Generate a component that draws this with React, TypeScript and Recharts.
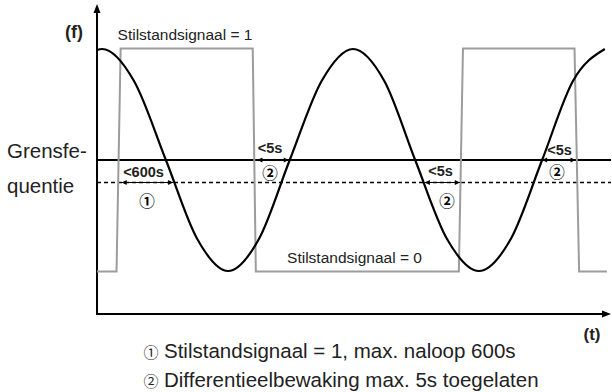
import React from 'react'
import { ComposedChart, Line, XAxis, YAxis, ReferenceLine, ReferenceDot } from 'recharts'

// t = time (arbitrary units), f = frequency (arbitrary units)
const sineT = [0, 0.1, 0.72, 1.34, 1.95, 2.55, 3.15, 3.75, 4.37, 4.98, 5.59, 6.19, 6.81, 7.43, 8.05, 8.66, 9.26, 9.88]
const sineF = [26.4, 26.5, 23.3, 15.4, 7.5, 4.3, 7.5, 15.4, 23.3, 26.5, 23.3, 15.4, 7.5, 4.3, 7.5, 15.4, 23.3, 26.5]

// stilstandsignaal (0 / 1)
const signalT = [0, 0.38, 0.46, 3.03, 3.09, 7.04, 7.12, 9.29, 9.38, 9.92]
const signalF = [4.25, 4.25, 26.55, 26.55, 4.25, 4.25, 26.55, 26.55, 4.25, 4.25]

const grensF = 15.4
const dashedF = 13.15

// measured spans between signal edge and crossing
const spanFrom = [0.48, 3.12, 6.38, 8.66]
const spanTo = [1.48, 3.73, 7.06, 9.31]
const spanF = [dashedF, grensF, dashedF, grensF]
const spanText = ['<600s', '<5s', '<5s', '<5s']
const spanTextT = [0.905, 3.366, 6.683, 9.0]
const spanTextF = [13.7, 16.1, 13.8, 15.9]
const markText = ['\u2460', '\u2461', '\u2461', '\u2461']
const markT = [0.973, 3.366, 6.81, 8.95]
const markF = [11.4, 14.2, 11.4, 14.3]

const stateText = ['Stilstandsignaal = 1', 'Stilstandsignaal = 0']
const stateT = [1.712, 5.01]
const stateF = [27.4, 5.1]

const sineData = sineT.map((t, i) => ({ t, f: sineF[i] }))
const signalData = signalT.map((t, i) => ({ t, f: signalF[i] }))

const FONT = '"Liberation Sans", Arial, sans-serif'
const CIRCLE_FONT = '"Noto Sans CJK JP", "DejaVu Sans", sans-serif'

const AxisArrow = (p: any) => {
  const { x1, y1, x2, y2 } = p
  if (Math.abs(x1 - x2) < 0.5) {
    const top = Math.min(y1, y2)
    const bot = Math.max(y1, y2)
    return (
      <g>
        <line x1={x1} y1={bot + 1} x2={x1} y2={top + 6} stroke="#000" strokeWidth={2} />
        <polygon points={`${x1},${top} ${x1 - 3.5},${top + 9} ${x1 + 3.5},${top + 9}`} fill="#000" />
      </g>
    )
  }
  const left = Math.min(x1, x2)
  const right = Math.max(x1, x2)
  return (
    <g>
      <line x1={left - 1} y1={y1} x2={right - 6} y2={y1} stroke="#000" strokeWidth={2} />
      <polygon points={`${right},${y1} ${right - 9},${y1 - 3.5} ${right - 9},${y1 + 3.5}`} fill="#000" />
    </g>
  )
}

const SpanArrow = (p: any) => {
  const { x1, y1, x2 } = p
  const a = Math.min(x1, x2)
  const b = Math.max(x1, x2)
  return (
    <g>
      <line x1={a} y1={y1} x2={b} y2={y1} stroke="#000" strokeWidth={1.2} />
      <polygon points={`${a},${y1} ${a + 5},${y1 - 2.5} ${a + 5},${y1 + 2.5}`} fill="#000" />
      <polygon points={`${b},${y1} ${b - 5},${y1 - 2.5} ${b - 5},${y1 + 2.5}`} fill="#000" />
    </g>
  )
}

const textShape = (value: string, size: number, bold: boolean, family = FONT, central = false) => (p: any) => (
  <text
    x={p.cx}
    y={p.cy}
    textAnchor="middle"
    dominantBaseline={central ? 'central' : 'alphabetic'}
    fontFamily={family}
    fontSize={size}
    fontWeight={bold ? 700 : 400}
    fill={central ? '#000' : '#222'}
  >
    {value}
  </text>
)

export default function App() {
  return (
    <div style={{ position: 'absolute', left: 0, top: 0, width: 612, height: 392, background: '#fff' }}>
      <ComposedChart width={612} height={392} margin={{ top: 4, right: 1, bottom: 78, left: 97 }}>
        <XAxis type="number" dataKey="t" domain={[0, 10]} hide />
        <YAxis type="number" domain={[0, 31]} hide />
        <ReferenceLine x={0} shape={AxisArrow} />
        <ReferenceLine y={0} shape={AxisArrow} />
        <ReferenceLine y={grensF} stroke="#000" strokeWidth={2} />
        <ReferenceLine y={dashedF} stroke="#000" strokeWidth={1.6} strokeDasharray="4 3" />
        <Line data={signalData} dataKey="f" type="linear" stroke="#9c9c9c" strokeWidth={2} dot={false} isAnimationActive={false} />
        <Line data={sineData} dataKey="f" type="monotone" stroke="#000" strokeWidth={2.2} dot={false} isAnimationActive={false} />
        {spanFrom.map((from, i) => (
          <ReferenceLine
            key={`span${i}`}
            segment={[{ x: from, y: spanF[i] }, { x: spanTo[i], y: spanF[i] }]}
            shape={SpanArrow}
          />
        ))}
        {spanText.map((s, i) => (
          <ReferenceDot key={`st${i}`} x={spanTextT[i]} y={spanTextF[i]} r={0} shape={textShape(s, 14.5, true)} />
        ))}
        {markText.map((s, i) => (
          <ReferenceDot key={`mk${i}`} x={markT[i]} y={markF[i]} r={0} shape={textShape(s, 15.5, true, CIRCLE_FONT, true)} />
        ))}
        {stateText.map((s, i) => (
          <ReferenceDot key={`sg${i}`} x={stateT[i]} y={stateF[i]} r={0} shape={textShape(s, 15.5, false)} />
        ))}
      </ComposedChart>
      <svg width={612} height={392} style={{ position: 'absolute', left: 0, top: 0, pointerEvents: 'none' }}>
        <g fontFamily={FONT} fill="#222">
          <text x={74} y={38} textAnchor="middle" fontSize={18} fontWeight={700}>(f)</text>
          <text x={592} y={340} textAnchor="middle" fontSize={17} fontWeight={700}>(t)</text>
          <text x={7} y={158} fontSize={20.5}>Grensfe-</text>
          <text x={7} y={193} fontSize={20.5}>quentie</text>
          <text y={358} fontSize={20.5}>
            <tspan x={151} fontFamily={CIRCLE_FONT} fontSize={15} textAnchor="middle">{'\u2460'}</tspan>
            <tspan x={164}>Stilstandsignaal = 1, max. naloop 600s</tspan>
          </text>
          <text y={387} fontSize={20.5}>
            <tspan x={151} fontFamily={CIRCLE_FONT} fontSize={15} textAnchor="middle">{'\u2461'}</tspan>
            <tspan x={164}>Differentieelbewaking max. 5s toegelaten</tspan>
          </text>
        </g>
      </svg>
    </div>
  )
}
